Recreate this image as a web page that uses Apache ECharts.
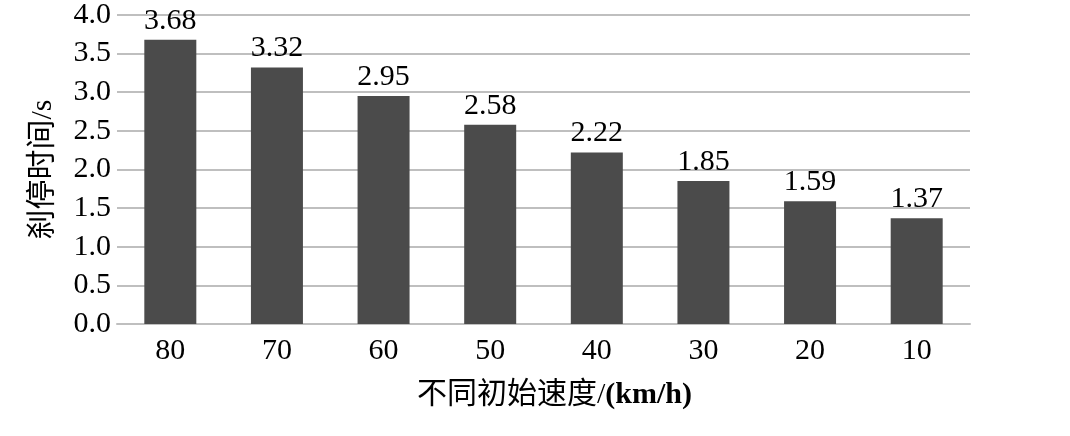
<!DOCTYPE html>
<html><head><meta charset="utf-8">
<script src="https://cdn.jsdelivr.net/npm/echarts@6/dist/echarts.min.js"></script>
<style>html,body{margin:0;padding:0;background:#fff}#c{width:1070px;height:436px}</style>
</head><body><div id="c"></div>
<script>
const categories = ['80','70','60','50','40','30','20','10'];
const values = [3.68, 3.32, 2.95, 2.58, 2.22, 1.85, 1.59, 1.37];
const yTicks = {min: 0, max: 4, interval: 0.5};
const xTitle = '不同初始速度/';
const xUnit = '(km/h)';
const yTitle = '刹停时间/s';
const FONT = '"Liberation Serif","Times New Roman","Noto Sans CJK SC",serif';
const chart = echarts.init(document.getElementById('c'));
chart.setOption({
  animation: false,
  grid: {left: 117, right: 100, top: 13, bottom: 112},
  xAxis: {
    type: 'category', data: categories,
    axisLine: {lineStyle: {color: '#bfbfbf', width: 2}},
    axisTick: {show: false},
    axisLabel: {fontFamily: FONT, fontSize: 30, color: '#000', margin: 12},
    name: '{a|' + xTitle + '}{b|' + xUnit + '}', nameLocation: 'middle', nameGap: 56,
    nameTextStyle: {fontFamily: FONT, fontSize: 30, color: '#000', padding: [0, 0, 0, 22],
      rich: {
        a: {fontFamily: FONT, fontSize: 30, color: '#000'},
        b: {fontFamily: FONT, fontSize: 30, color: '#000', fontWeight: 'bold'}
      }}
  },
  yAxis: {
    type: 'value', min: yTicks.min, max: yTicks.max, interval: yTicks.interval,
    axisLine: {show: false}, axisTick: {show: false},
    splitLine: {lineStyle: {color: '#bfbfbf', width: 2}},
    axisLabel: {fontFamily: FONT, fontSize: 30, color: '#000', margin: 6,
      formatter: v => v.toFixed(1)},
    name: yTitle, nameLocation: 'middle', nameGap: 59, nameRotate: 90,
    nameTextStyle: {fontFamily: FONT, fontSize: 30, color: '#000'}
  },
  series: [{
    type: 'bar', data: values, barWidth: 52,
    itemStyle: {color: '#4b4b4b'},
    label: {show: true, position: 'top', distance: 4, fontFamily: FONT, fontSize: 30, color: '#000',
      formatter: p => p.value.toFixed(2)}
  }]
});
</script></body></html>
